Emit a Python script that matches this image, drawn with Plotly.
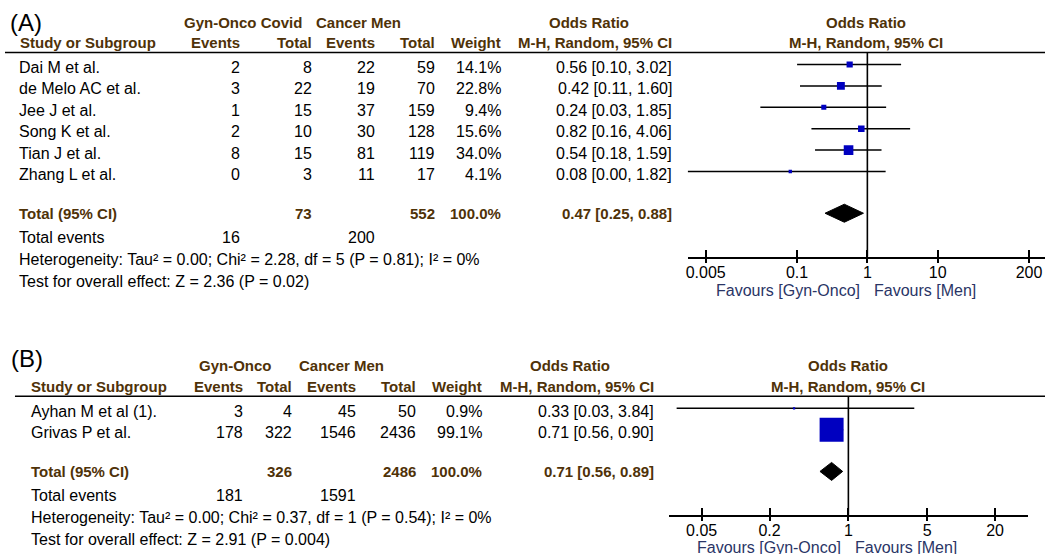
import math
import plotly.graph_objects as go

W, H = 1045, 554
FONT = "Liberation Sans, Arial, Helvetica, sans-serif"
BROWN = "#4f3208"
NAVY = "#2a3566"
BLUE = "#0000c0"

# ---------------- (A) Gyn-Onco Covid vs Cancer Men ----------------
a_study = ["Dai M et al.", "de Melo AC et al.", "Jee J et al.", "Song K et al.",
           "Tian J et al.", "Zhang L et al."]
a_events_g = [2, 3, 1, 2, 8, 0]
a_total_g = [8, 22, 15, 10, 15, 3]
a_events_m = [22, 19, 37, 30, 81, 11]
a_total_m = [59, 70, 159, 128, 119, 17]
a_weight = [14.1, 22.8, 9.4, 15.6, 34.0, 4.1]
a_or = [0.56, 0.42, 0.24, 0.82, 0.54, 0.08]
a_lo = [0.10, 0.11, 0.03, 0.16, 0.18, 0.00]
a_hi = [3.02, 1.60, 1.85, 4.06, 1.59, 1.82]
a_pooled = [0.47, 0.25, 0.88]
a_het = "Heterogeneity: Tau² = 0.00; Chi² = 2.28, df = 5 (P = 0.81); I² = 0%"
a_test = "Test for overall effect: Z = 2.36 (P = 0.02)"
a_ticks = [0.005, 0.1, 1, 10, 200]
a_ticktext = ["0.005", "0.1", "1", "10", "200"]

# ---------------- (B) Gyn-Onco vs Cancer Men ----------------
b_study = ["Ayhan M et al (1).", "Grivas P et al."]
b_events_g = [3, 178]
b_total_g = [4, 322]
b_events_m = [45, 1546]
b_total_m = [50, 2436]
b_weight = [0.9, 99.1]
b_or = [0.33, 0.71]
b_lo = [0.03, 0.56]
b_hi = [3.84, 0.90]
b_pooled = [0.71, 0.56, 0.89]
b_het = "Heterogeneity: Tau² = 0.00; Chi² = 0.37, df = 1 (P = 0.54); I² = 0%"
b_test = "Test for overall effect: Z = 2.91 (P = 0.004)"
b_ticks = [0.05, 0.2, 1, 5, 20]
b_ticktext = ["0.05", "0.2", "1", "5", "20"]

ROW = 21.4  # pixel height of one study row

panels = [
    dict(tag="(A)", tag_x=6, tag_y=22, row0=64.5, group1="Gyn-Onco Covid",
         g1_cx=241, g2_cx=357, or_cx=588, name_x=15, head_x=16, rule_x0=3,
         cols=[240, 313, 376, 436, 502, 673], ax_x0=687, ax_x1=1045,
         ax_range=[-2.557, 2.528], sq_scale=1.65, xa="x", ya="y", xo="x3",
         fav_dy=33.5,
         study=a_study, eg=a_events_g, tg=a_total_g, em=a_events_m, tm=a_total_m,
         w=a_weight, orr=a_or, lo=a_lo, hi=a_hi, pooled=a_pooled,
         het=a_het, test=a_test, ticks=a_ticks, ticktext=a_ticktext),
    dict(tag="(B)", tag_x=7, tag_y=358, row0=408.3, group1="Gyn-Onco",
         g1_cx=234, g2_cx=340, or_cx=569, name_x=27, head_x=27, rule_x0=13,
         cols=[243, 293, 357, 417, 483, 655], ax_x0=668, ax_x1=1028,
         ax_range=[-1.593, 1.593], sq_scale=2.41, xa="x2", ya="y2", xo="x4",
         fav_dy=33,
         study=b_study, eg=b_events_g, tg=b_total_g, em=b_events_m, tm=b_total_m,
         w=b_weight, orr=b_or, lo=b_lo, hi=b_hi, pooled=b_pooled,
         het=b_het, test=b_test, ticks=b_ticks, ticktext=b_ticktext),
]

fig = go.Figure()
annotations = []
shapes = []


def px(x):
    return x / W


def py(y):
    return 1 - y / H


def label(x, y, text, anchor="left", size=16, color="black", bold=False):
    if bold:
        text = "<b>" + text + "</b>"
    annotations.append(dict(
        x=px(x), y=py(y), xref="paper", yref="paper", text=text,
        xanchor=anchor, yanchor="middle", showarrow=False,
        font=dict(family=FONT, size=size, color=color)))


def axis_key(ref):
    return "xaxis" if ref == "x" else "xaxis" + ref[1:]


def yaxis_key(ref):
    return "yaxis" if ref == "y" else "yaxis" + ref[1:]


layout_axes = {}

for p in panels:
    n = len(p["study"])
    y0 = p["row0"]

    def ypix(r):
        return y0 + ROW * r

    r_tot = n + 0.95
    y_tot = ypix(r_tot)
    y_axis = y_tot + 43.5
    y_top = y0 - 12
    tdy = 3  # text sits slightly below the marks

    # panel tag and headers
    label(p["tag_x"], p["tag_y"], p["tag"], size=24)
    label(p["g1_cx"], y0 - 42.5, p["group1"], "center", 15, BROWN, True)
    label(p["g2_cx"], y0 - 42.5, "Cancer Men", "center", 15, BROWN, True)
    label(p["or_cx"], y0 - 42.5, "Odds Ratio", "center", 15, BROWN, True)
    plot_cx = (p["ax_x0"] + p["ax_x1"]) / 2
    label(plot_cx, y0 - 42.5, "Odds Ratio", "center", 15, BROWN, True)
    label(plot_cx, y0 - 21.8, "M-H, Random, 95% CI", "center", 15, BROWN, True)
    label(p["head_x"], y0 - 21.8, "Study or Subgroup", "left", 15, BROWN, True)
    for cx, txt in zip(p["cols"], ["Events", "Total", "Events", "Total", "Weight",
                                   "M-H, Random, 95% CI"]):
        label(cx, y0 - 21.8, txt, "right", 15, BROWN, True)
    shapes.append(dict(type="line", xref="paper", yref="paper",
                       x0=px(p["rule_x0"]), x1=1, y0=py(y_top), y1=py(y_top),
                       line=dict(color="black", width=1.5)))

    # study rows
    for i in range(n):
        yt = ypix(i) + tdy
        label(p["name_x"], yt, p["study"][i])
        vals = [str(p["eg"][i]), str(p["tg"][i]), str(p["em"][i]), str(p["tm"][i]),
                f"{p['w'][i]:.1f}%",
                f"{p['orr'][i]:.2f} [{p['lo'][i]:.2f}, {p['hi'][i]:.2f}]"]
        for cx, txt in zip(p["cols"], vals):
            label(cx, yt, txt, "right")

    # total row
    yt = y_tot + 0.5
    pooled_or, pooled_lo, pooled_hi = p["pooled"]
    label(p["name_x"], yt, "Total (95% CI)", "left", 15, BROWN, True)
    label(p["cols"][1], yt, str(sum(p["tg"])), "right", 15, BROWN, True)
    label(p["cols"][3], yt, str(sum(p["tm"])), "right", 15, BROWN, True)
    label(p["cols"][4], yt, f"{sum(p['w']):.1f}%", "right", 15, BROWN, True)
    label(p["cols"][5], yt, f"{pooled_or:.2f} [{pooled_lo:.2f}, {pooled_hi:.2f}]",
          "right", 15, BROWN, True)
    label(p["name_x"], y_tot + 24.5, "Total events")
    label(p["cols"][0], y_tot + 24.5, str(sum(p["eg"])), "right")
    label(p["cols"][2], y_tot + 24.5, str(sum(p["em"])), "right")
    label(p["name_x"], y_tot + 46, p["het"])
    label(p["name_x"], y_tot + 68, p["test"])

    # favours labels under the axis
    one_x = p["ax_x0"] + (p["ax_x1"] - p["ax_x0"]) * (0 - p["ax_range"][0]) / (
        p["ax_range"][1] - p["ax_range"][0])
    label(one_x - 5, y_axis + p["fav_dy"], "Favours [Gyn-Onco]", "right", 16, NAVY)
    label(one_x + 5, y_axis + p["fav_dy"], "Favours [Men]", "left", 16, NAVY)

    # forest plot marks (y in row units)
    r_top = (y_top - y0) / ROW
    r_bot = (y_axis - y0) / ROW
    xmin = 10 ** p["ax_range"][0]

    # line of no effect (on the labelled overlay axis)
    fig.add_trace(go.Scatter(x=[1, 1], y=[r_top, r_bot], mode="lines",
                             line=dict(color="black", width=1.6),
                             xaxis=p["xo"], yaxis=p["ya"], hoverinfo="skip",
                             showlegend=False))
    # confidence intervals
    cx, cy = [], []
    for i in range(n):
        cx += [max(p["lo"][i], xmin), p["hi"][i], None]
        cy += [i, i, None]
    fig.add_trace(go.Scatter(x=cx, y=cy, mode="lines",
                             line=dict(color="black", width=1.5),
                             xaxis=p["xa"], yaxis=p["ya"], hoverinfo="skip",
                             showlegend=False))
    # study estimates, square size by weight
    fig.add_trace(go.Scatter(
        x=p["orr"], y=list(range(n)), mode="markers",
        marker=dict(symbol="square", color=BLUE, opacity=1,
                    size=[p["sq_scale"] * math.sqrt(w) for w in p["w"]],
                    line=dict(width=0)),
        xaxis=p["xa"], yaxis=p["ya"], showlegend=False))
    # pooled diamond
    hd = 9 / ROW
    fig.add_trace(go.Scatter(
        x=[pooled_lo, pooled_or, pooled_hi, pooled_or, pooled_lo],
        y=[r_tot, r_tot - hd, r_tot, r_tot + hd, r_tot],
        mode="lines", fill="toself", fillcolor="black",
        line=dict(color="black", width=1),
        xaxis=p["xa"], yaxis=p["ya"], hoverinfo="skip", showlegend=False))

    xdom = [p["ax_x0"] / W, p["ax_x1"] / W]
    ydom = [py(y_axis), py(y_top)]
    layout_axes[axis_key(p["xa"])] = dict(
        domain=xdom, type="log", range=p["ax_range"], anchor=p["ya"],
        showline=True, linecolor="black", linewidth=2, showgrid=False,
        zeroline=False, ticks="inside", ticklen=7, tickwidth=1.5,
        tickcolor="black", tickvals=p["ticks"], showticklabels=False,
        fixedrange=True)
    layout_axes[axis_key(p["xo"])] = dict(
        overlaying=p["xa"], type="log", range=p["ax_range"], anchor=p["ya"],
        showline=False, showgrid=False, zeroline=False, ticks="outside",
        ticklen=5, tickwidth=1.5, tickcolor="black", tickvals=p["ticks"],
        ticktext=p["ticktext"], ticklabelstandoff=-4,
        tickfont=dict(family=FONT, size=16, color="black"),
        fixedrange=True)
    layout_axes[yaxis_key(p["ya"])] = dict(
        domain=ydom, range=[r_bot, r_top], visible=False, showgrid=False,
        zeroline=False, fixedrange=True)

fig.update_layout(
    width=W, height=H, autosize=False,
    margin=dict(l=0, r=0, t=0, b=0),
    paper_bgcolor="white", plot_bgcolor="rgba(0,0,0,0)",
    showlegend=False, annotations=annotations, shapes=shapes,
    **layout_axes)

fig.write_html("out.html")
